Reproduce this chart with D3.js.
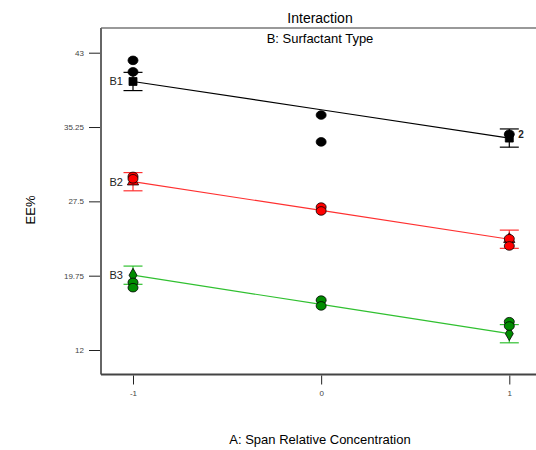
<!DOCTYPE html>
<html lang="en">
<head>
<meta charset="utf-8">
<style type="text/css">
  body { margin: 0; background: #fff; }
  svg { font-family: "Liberation Sans", Arial, sans-serif; }
  .tick text { fill: #444; font-size: 8px; font-family: "Liberation Sans", Arial, sans-serif; }
</style>
</head>
<body>
<svg width="536" height="450"></svg>
<script src="https://d3js.org/d3.v7.min.js"></script>
<script type="text/javascript">
// factor levels and series
var xLevels = [-1, 0, 1];
var groups = ["B1", "B2", "B3"];
var yTicks = [12, 19.75, 27.5, 35.25, 43];

// predicted means at A = -1, 0, 1
var predB1 = [40.0, 37.05, 34.1];
var predB2 = [29.55, 26.55, 23.55];
var predB3 = [19.8, 16.75, 13.7];
// LSD half width
var lsd = 0.95;

// design points [A, EE%]
var ptsB1 = [[-1, 42.2], [-1, 41.0], [0, 36.5], [0, 33.7], [1, 34.5]];
var ptsB2 = [[-1, 30.1], [-1, 29.85], [0, 26.9], [0, 26.5], [1, 23.6], [1, 22.85]];
var ptsB3 = [[-1, 19.05], [-1, 18.5], [0, 17.2], [0, 16.6], [1, 14.95], [1, 14.5]];
// replicate counts shown next to points
var counts = [["B1", 1, 34.5, 2]];

var colors = {B1: "#000000", B2: "#ff0000", B3: "#008c00"};
var lineColors = {B1: "#000000", B2: "#ff3030", B3: "#30c030"};
var markers = {B1: d3.symbolSquare, B2: d3.symbolTriangle, B3: d3.symbolDiamond};

var svg = d3.select("svg");
var plotLeft = 101, plotTop = 28, plotBottom = 374.5, plotRight = 560;

var x = d3.scaleLinear().domain([-1, 1]).range([133, 509.3]);
var y = d3.scaleLinear().domain([12, 43]).range([350, 52.7]);

// frame
svg.append("line").attr("x1", plotLeft).attr("x2", plotRight).attr("y1", plotTop).attr("y2", plotTop)
  .attr("stroke", "#777").attr("stroke-width", 1.5);
svg.append("line").attr("x1", plotLeft).attr("x2", plotLeft).attr("y1", plotTop).attr("y2", plotBottom)
  .attr("stroke", "#666").attr("stroke-width", 2);
svg.append("line").attr("x1", plotLeft).attr("x2", plotRight).attr("y1", plotBottom).attr("y2", plotBottom)
  .attr("stroke", "#444").attr("stroke-width", 2);

var ya = svg.append("g").attr("transform", "translate(" + (plotLeft - 1) + ",0)")
  .call(d3.axisLeft(y).tickValues(yTicks).tickSize(11).tickPadding(5).tickFormat(function(d) { return String(d); }));
ya.select(".domain").remove();
ya.selectAll(".tick line").attr("stroke", "#222");

var xa = svg.append("g").attr("transform", "translate(0," + (plotBottom + 1) + ")")
  .call(d3.axisBottom(x).tickValues(xLevels).tickSize(9).tickPadding(6).tickFormat(function(d) { return String(d); }));
xa.select(".domain").remove();
xa.selectAll(".tick line").attr("stroke", "#222");

// titles
svg.append("text").attr("x", 320).attr("y", 23).attr("text-anchor", "middle")
  .attr("font-size", 14).text("Interaction");
svg.append("text").attr("x", 320).attr("y", 43).attr("text-anchor", "middle")
  .attr("font-size", 13).text("B: Surfactant Type");
svg.append("text").attr("transform", "translate(35,210) rotate(-90)").attr("text-anchor", "middle")
  .attr("font-size", 13).text("EE%");
svg.append("text").attr("x", 320).attr("y", 444).attr("text-anchor", "middle")
  .attr("font-size", 13).text("A: Span Relative Concentration");

var preds = {B1: predB1, B2: predB2, B3: predB3};
var pts = {B1: ptsB1, B2: ptsB2, B3: ptsB3};

groups.forEach(function(g) {
  var p = preds[g];
  // prediction line
  svg.append("path")
    .datum(xLevels.map(function(a, i) { return [a, p[i]]; }))
    .attr("fill", "none").attr("stroke", lineColors[g]).attr("stroke-width", 1.2)
    .attr("d", d3.line().x(function(d) { return x(d[0]); }).y(function(d) { return y(d[1]); }));

  // LSD bars at the ends
  [0, 2].forEach(function(i) {
    var cx = x(xLevels[i]), lo = y(p[i] - lsd), hi = y(p[i] + lsd);
    var gb = svg.append("g").attr("stroke", lineColors[g]).attr("stroke-width", 1.2);
    gb.append("line").attr("x1", cx).attr("x2", cx).attr("y1", hi).attr("y2", lo);
    gb.append("line").attr("x1", cx - 9.5).attr("x2", cx + 9.5).attr("y1", hi).attr("y2", hi);
    gb.append("line").attr("x1", cx - 9.5).attr("x2", cx + 9.5).attr("y1", lo).attr("y2", lo);
    svg.append("path").attr("d", d3.symbol().type(markers[g]).size(g == "B1" ? 64 : 55)())
      .attr("transform", "translate(" + cx + "," + y(p[i]) + ")")
      .attr("fill", colors[g]).attr("stroke", "#000").attr("stroke-width", 0.8);
  });

  // design points
  svg.selectAll(null).data(pts[g]).enter().append("ellipse")
    .attr("cx", function(d) { return x(d[0]); })
    .attr("cy", function(d) { return y(d[1]); })
    .attr("rx", 5).attr("ry", 4.3)
    .attr("fill", colors[g]).attr("stroke", "#000").attr("stroke-width", 0.8);

  // group label
  svg.append("text").attr("x", x(-1) - 10).attr("y", y(p[0]) + 4)
    .attr("text-anchor", "end").attr("font-size", 11).attr("fill", "#222").text(g);
});

counts.forEach(function(c) {
  svg.append("text").attr("x", x(c[1]) + 9).attr("y", y(c[2]) + 4)
    .attr("font-size", 10).attr("font-weight", "bold").attr("fill", "#222").text(c[3]);
});
</script>
</body>
</html>
